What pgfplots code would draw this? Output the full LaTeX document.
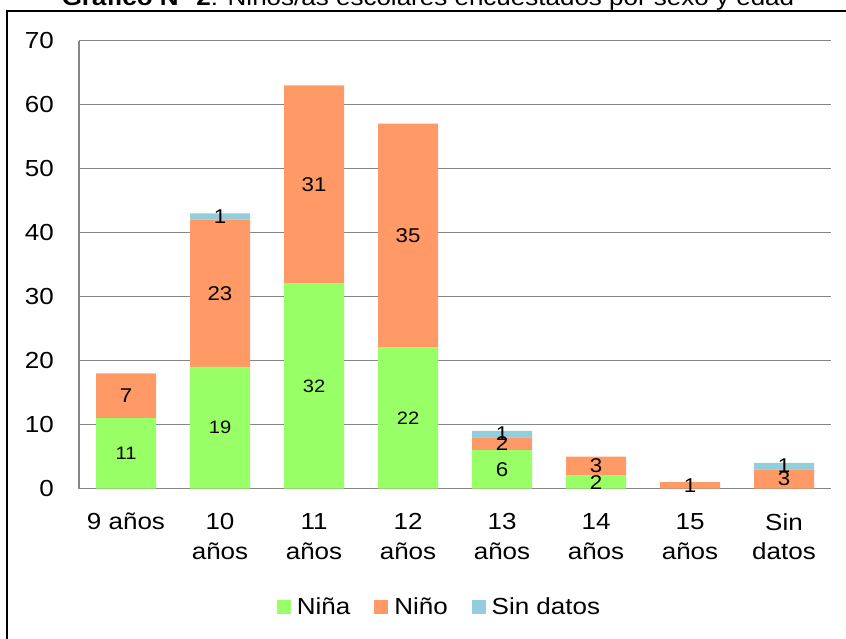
\documentclass[border=0pt]{standalone}
\usepackage{fontspec}
\setmainfont{Liberation Sans}[FakeStretch=1.12]
\usepackage{pgfplots}
\pgfplotsset{compat=1.18}
\definecolor{nina}{RGB}{153,255,102}
\definecolor{nino}{RGB}{255,153,102}
\definecolor{sind}{RGB}{146,205,220}
\definecolor{gridc}{RGB}{134,134,134}
\newcommand{\tickfont}{\fontsize{23.3}{30}\selectfont}
\begin{document}
\begin{tikzpicture}[x=1bp,y=1bp]
\useasboundingbox (0,0) rectangle (846,-639);
\draw[line width=1.6bp] (7,-700) -- (7,-11) -- (900,-11);
\node[anchor=base, inner sep=0pt, font=\tickfont] at (428,-6) {\textbf{Gráfico N° 2}: Niños/as escolares encuestados por sexo y edad};
\begin{axis}[
  at={(79bp,-488.5bp)}, anchor=south west,
  width=752bp, height=448bp, scale only axis,
  ybar stacked, bar width=60bp,
  xmin=-0.5, xmax=7.5, ymin=0, ymax=70,
  xtick={0,...,7},
  xticklabels={9 años,{10\\años},{11\\años},{12\\años},{13\\años},{14\\años},{15\\años},{Sin\\datos}},
  xticklabel style={align=center, anchor=north, inner sep=0pt, yshift=-24.5bp, font=\tickfont},
  ytick={0,10,...,70},
  yticklabel style={anchor=east, inner sep=0pt, xshift=-25bp, font=\tickfont},
  /pgf/number format/assume math mode=true,
  major tick length=0pt,
  ymajorgrids, grid style={gridc, line width=1.8bp},
  axis x line*=bottom, axis y line*=left,
  axis line style={gridc, line width=1.8bp},
  legend columns=3,
  legend style={at={(0.478,-0.2645)}, anchor=center, draw=none, fill=none,
    font=\tickfont, nodes={inner sep=0pt},
    column sep=6bp,
    /tikz/every even column/.append style={column sep=24bp}},
  legend image code/.code={\fill[#1,draw=none] (0bp,-7bp) rectangle (14bp,7bp);},
]
\addplot[fill=nina, draw=none] coordinates {(0,11) (1,19) (2,32) (3,22) (4,6) (5,2) (6,0) (7,0)};
\addplot[fill=nino, draw=none] coordinates {(0,7) (1,23) (2,31) (3,35) (4,2) (5,3) (6,1) (7,3)};
\addplot[fill=sind, draw=none] coordinates {(0,0) (1,1) (2,0) (3,0) (4,1) (5,0) (6,0) (7,1)};
\legend{Niña,Niño,Sin datos}
\end{axis}
\begin{axis}[
  at={(79bp,-488.5bp)}, anchor=south west,
  width=752bp, height=448bp, scale only axis,
  xmin=-0.5, xmax=7.5, ymin=0, ymax=70,
  hide axis, clip=false,
]
\addplot[draw=none, mark=none, nodes near coords, nodes near coords align={center},
  point meta=explicit symbolic,
  every node near coord/.append style={inner sep=0pt, font=\fontsize{18}{20}\selectfont}]
  table[meta=l] {
x y l
0 5.5 11
1 9.5 19
2 16 32
3 11 22
};
\addplot[draw=none, mark=none, nodes near coords, nodes near coords align={center},
  point meta=explicit symbolic,
  every node near coord/.append style={inner sep=0pt, font=\fontsize{20}{22}\selectfont}]
  table[meta=l] {
x y l
4 3 6
5 1 2
0 14.5 7
1 30.5 23
2 47.5 31
3 39.5 35
4 7 2
5 3.5 3
6 0.5 1
7 1.5 3
1 42.5 1
4 8.5 1
7 3.5 1
};
\end{axis}
\end{tikzpicture}
\end{document}
